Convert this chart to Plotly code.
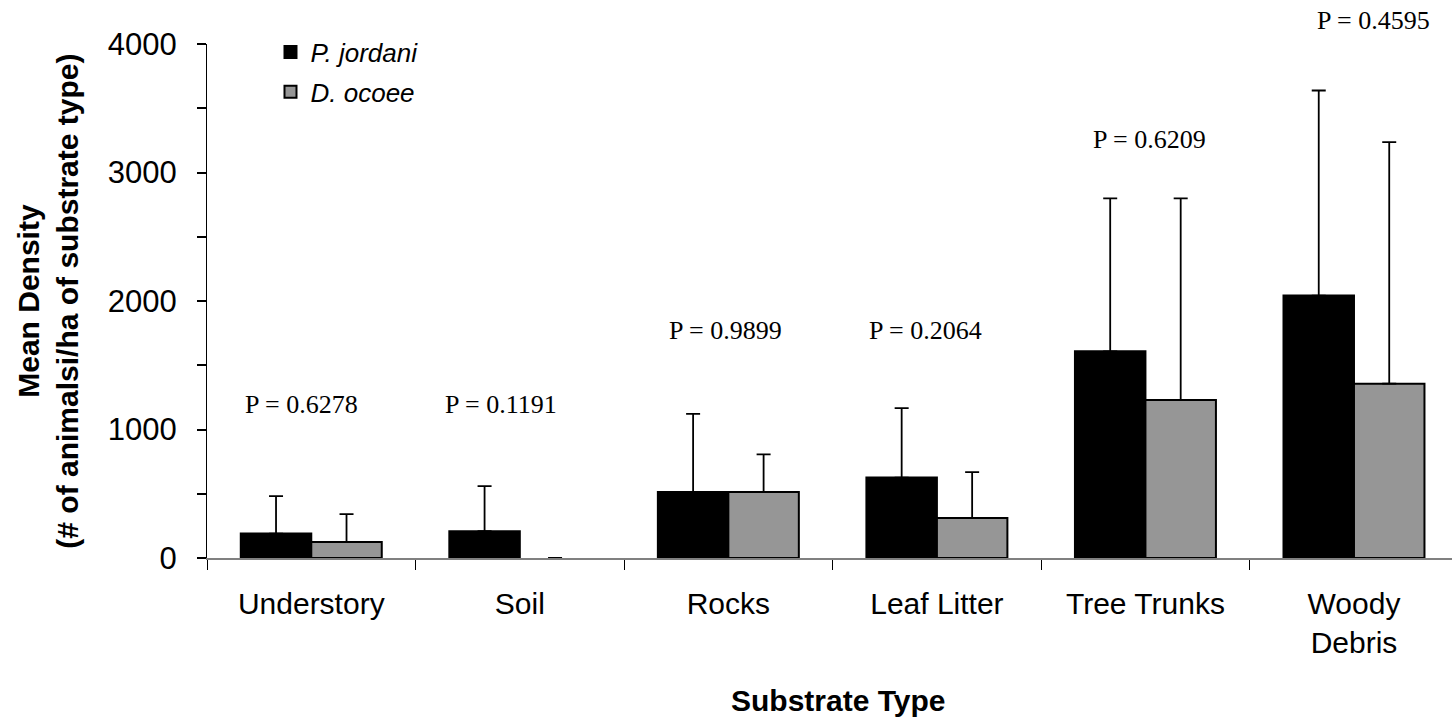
import plotly.graph_objects as go

categories = ["Understory", "Soil", "Rocks", "Leaf Litter", "Tree Trunks", "Woody<br>Debris"]
jordani_mean = [190, 208, 514, 626, 1608, 2042]
jordani_err = [292, 352, 607, 541, 1190, 1596]
ocoee_mean = [125, 0, 514, 311, 1230, 1357]
ocoee_err = [217, 0, 293, 358, 1568, 1879]
p_values = ["0.6278", "0.1191", "0.9899", "0.2064", "0.6209", "0.4595"]
# label placement (category index offset, data y)
p_x = [-0.048, 0.909, 1.987, 2.944, 4.018, 5.094]
p_y = [1193, 1193, 1770, 1770, 3256, 4183]
Y_MAX = 4000

SANS = "Liberation Sans, Arial, sans-serif"
SERIF = "Liberation Serif, Times New Roman, serif"

fig = go.Figure()
fig.add_trace(go.Bar(
    x=categories, y=jordani_mean, name="<i>P. jordani</i>",
    marker=dict(color="#000000", line=dict(color="#000000", width=2)),
    error_y=dict(type="data", symmetric=False, array=jordani_err,
                 arrayminus=[0] * len(categories), color="#000000", thickness=1.8, width=7),
    legendgroup="a",
))
fig.add_trace(go.Bar(
    x=categories, y=ocoee_mean, name="<i>D. ocoee</i>",
    marker=dict(color="#969696",
                line=dict(color="#000000", width=[2 if v > 0 else 0 for v in ocoee_mean])),
    error_y=dict(type="data", symmetric=False, array=ocoee_err,
                 arrayminus=[0] * len(categories), color="#000000", thickness=1.8, width=7),
    legendgroup="b",
))

for px, py, pv in zip(p_x, p_y, p_values):
    fig.add_annotation(x=px, y=py / Y_MAX, xref="x", yref="paper", text=f"P = {pv}",
                       showarrow=False, xanchor="center", yanchor="middle",
                       font=dict(family=SERIF, size=26, color="#000000"))

fig.add_annotation(x=0.507, y=-0.2767, xref="paper", yref="paper",
                   text="<b>Substrate Type</b>", showarrow=False,
                   xanchor="center", yanchor="middle",
                   font=dict(family=SANS, size=30, color="#000000"))
fig.add_annotation(x=-0.128, y=0.5, xref="paper", yref="paper",
                   text="<b>Mean Density</b><br><b>(# of animalsi/ha of substrate type)</b>",
                   showarrow=False, textangle=-90, xanchor="center", yanchor="middle",
                   font=dict(family=SANS, size=30, color="#000000"))

fig.update_layout(
    width=1452, height=718,
    margin=dict(l=206.5, r=0, t=43.5, b=160.3),
    paper_bgcolor="white", plot_bgcolor="white",
    barmode="group", bargap=0.324, bargroupgap=0,
    showlegend=True,
    legend=dict(x=0.051, y=1.03, xanchor="left", yanchor="top",
                font=dict(family=SANS, size=26, color="#000000"),
                bgcolor="rgba(0,0,0,0)", tracegroupgap=3, itemwidth=30),
    xaxis=dict(
        type="category", categoryorder="array", categoryarray=categories,
        range=[-0.5, 5.47], tickson="boundaries",
        ticks="outside", ticklen=10, tickwidth=1, tickcolor="#000000",
        showline=True, linecolor="#808080", linewidth=2,
        showgrid=False, zeroline=False,
        tickfont=dict(family=SANS, size=30, color="#000000"),
        ticklabelstandoff=18,
    ),
    yaxis=dict(
        range=[0, Y_MAX], tickmode="linear", tick0=0, dtick=1000,
        ticks="outside", ticklen=9, tickwidth=1.5, tickcolor="#000000",
        minor=dict(dtick=500, ticks="outside", ticklen=9, tickwidth=1.5, tickcolor="#000000", showgrid=False),
        showline=True, linecolor="#000000", linewidth=1.3,
        showgrid=False, zeroline=False,
        tickfont=dict(family=SANS, size=31, color="#000000"),
        ticklabelstandoff=14,
    ),
)

fig.write_html("out.html")
